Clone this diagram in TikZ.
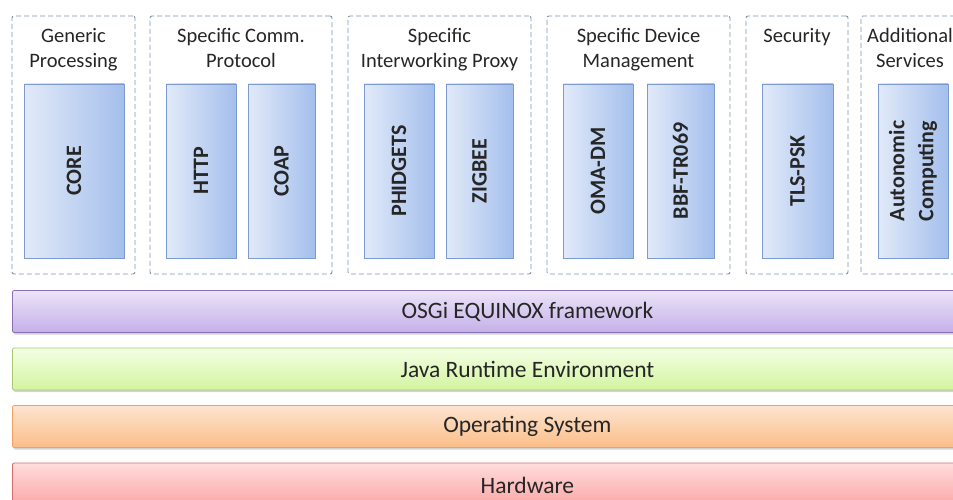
\documentclass[tikz,border=0pt]{standalone}
\usepackage{fontspec}
\setmainfont{Carlito}
\usetikzlibrary{shadows}
\definecolor{dashc}{HTML}{7F93AD}
\definecolor{txt}{HTML}{262626}
\definecolor{inL}{HTML}{E2EAF9}
\definecolor{inR}{HTML}{A4BFEC}
\definecolor{inB}{HTML}{7C9BD0}
\begin{document}
\begin{tikzpicture}[x=1pt,y=-1pt,
  group/.style={draw=dashc, dash pattern=on 5pt off 3pt, line width=0.9pt, rounded corners=2pt, inner sep=0pt, minimum height=258pt},
  gtitle/.style={align=center, text=txt, font=\fontsize{20.5}{25}\selectfont, inner sep=0pt},
  inbox/.style={draw=inB, line width=0.8pt, left color=inL, right color=inR, inner sep=0pt, minimum width=70pt, minimum height=174pt},
  inlabel/.style={rotate=90, text=txt, font=\fontsize{22}{29}\bfseries\selectfont, align=center, inner sep=0pt},
  bar/.style={line width=0.8pt, rounded corners=2pt, inner sep=0pt, minimum height=42pt, minimum width=1030pt, text=txt, font=\fontsize{23.5}{28}\selectfont,
     drop shadow={opacity=0.35, shadow xshift=1pt, shadow yshift=-2pt}},
]
\useasboundingbox (0,0) rectangle (953,500);
\clip (0,0) rectangle (953,500);
% groups
\node[group, minimum width=123pt] (g1) at (73.5,145) {};
\node[group, minimum width=182pt] (g2) at (241,145) {};
\node[group, minimum width=183pt] (g3) at (439.5,145) {};
\node[group, minimum width=183pt] (g4) at (638.5,145) {};
\node[group, minimum width=102pt] (g5) at (797,145) {};
\node[group, minimum width=104pt] (g6) at (913,145) {};
% titles
\node[gtitle, anchor=north] (t1) at (73.5,28) {Generic\\Processing};
\node[gtitle, anchor=north] (t2) at (241,28) {Specific Comm.\\Protocol};
\node[gtitle, anchor=north] (t3) at (439.5,28) {Specific\\Interworking Proxy};
\node[gtitle, anchor=north] (t4) at (638.5,28) {Specific Device\\Management};
\node[gtitle, anchor=north] (t5) at (797,28) {Security};
\node[gtitle, anchor=north] (t6) at (910,28) {Additional\\Services};
% inner boxes
\node[inbox, minimum width=100pt] (core) at (74,171) {};
\node[inbox] (http) at (201,171) {};
\node[inbox, minimum width=67pt] (coap) at (281.5,171) {};
\node[inbox] (phid) at (399,171) {};
\node[inbox, minimum width=67pt] (zig) at (479.5,171) {};
\node[inbox] (oma) at (598,171) {};
\node[inbox, minimum width=67pt] (bbf) at (680.5,171) {};
\node[inbox, minimum width=71pt] (tls) at (797.5,171) {};
\node[inbox] (auto) at (913,171) {};
\node[inlabel] at (core.center) {CORE};
\node[inlabel] at (http.center) {HTTP};
\node[inlabel] at (coap.center) {COAP};
\node[inlabel] at (phid.center) {PHIDGETS};
\node[inlabel] at (zig.center) {ZIGBEE};
\node[inlabel] at (oma.center) {OMA-DM};
\node[inlabel] at (bbf.center) {BBF-TR069};
\node[inlabel] at (tls.center) {TLS-PSK};
\node[inlabel] at (auto.center) {Autonomic\\Computing};
% bars
\node[bar, anchor=west, draw={rgb,255:red,140;green,112;blue,178}, top color={rgb,255:red,236;green,228;blue,248}, bottom color={rgb,255:red,196;green,176;blue,232}] (osgi) at (12,311.5) {OSGi EQUINOX framework};
\node[bar, anchor=west, draw={rgb,255:red,170;green,200;blue,110}, top color={rgb,255:red,244;green,255;blue,228}, bottom color={rgb,255:red,210;green,244;blue,160}] (jre) at (12,369) {Java Runtime Environment};
\node[bar, anchor=west, draw={rgb,255:red,240;green,160;blue,100}, top color={rgb,255:red,253;green,228;blue,208}, bottom color={rgb,255:red,250;green,190;blue,136}] (os) at (12,426.5) {Operating System};
\node[bar, anchor=west, minimum height=44pt, draw={rgb,255:red,210;green,110;blue,110}, top color={rgb,255:red,255;green,220;blue,220}, bottom color={rgb,255:red,250;green,165;blue,165}] (hw) at (12,485) {Hardware};
\end{tikzpicture}
\end{document}
